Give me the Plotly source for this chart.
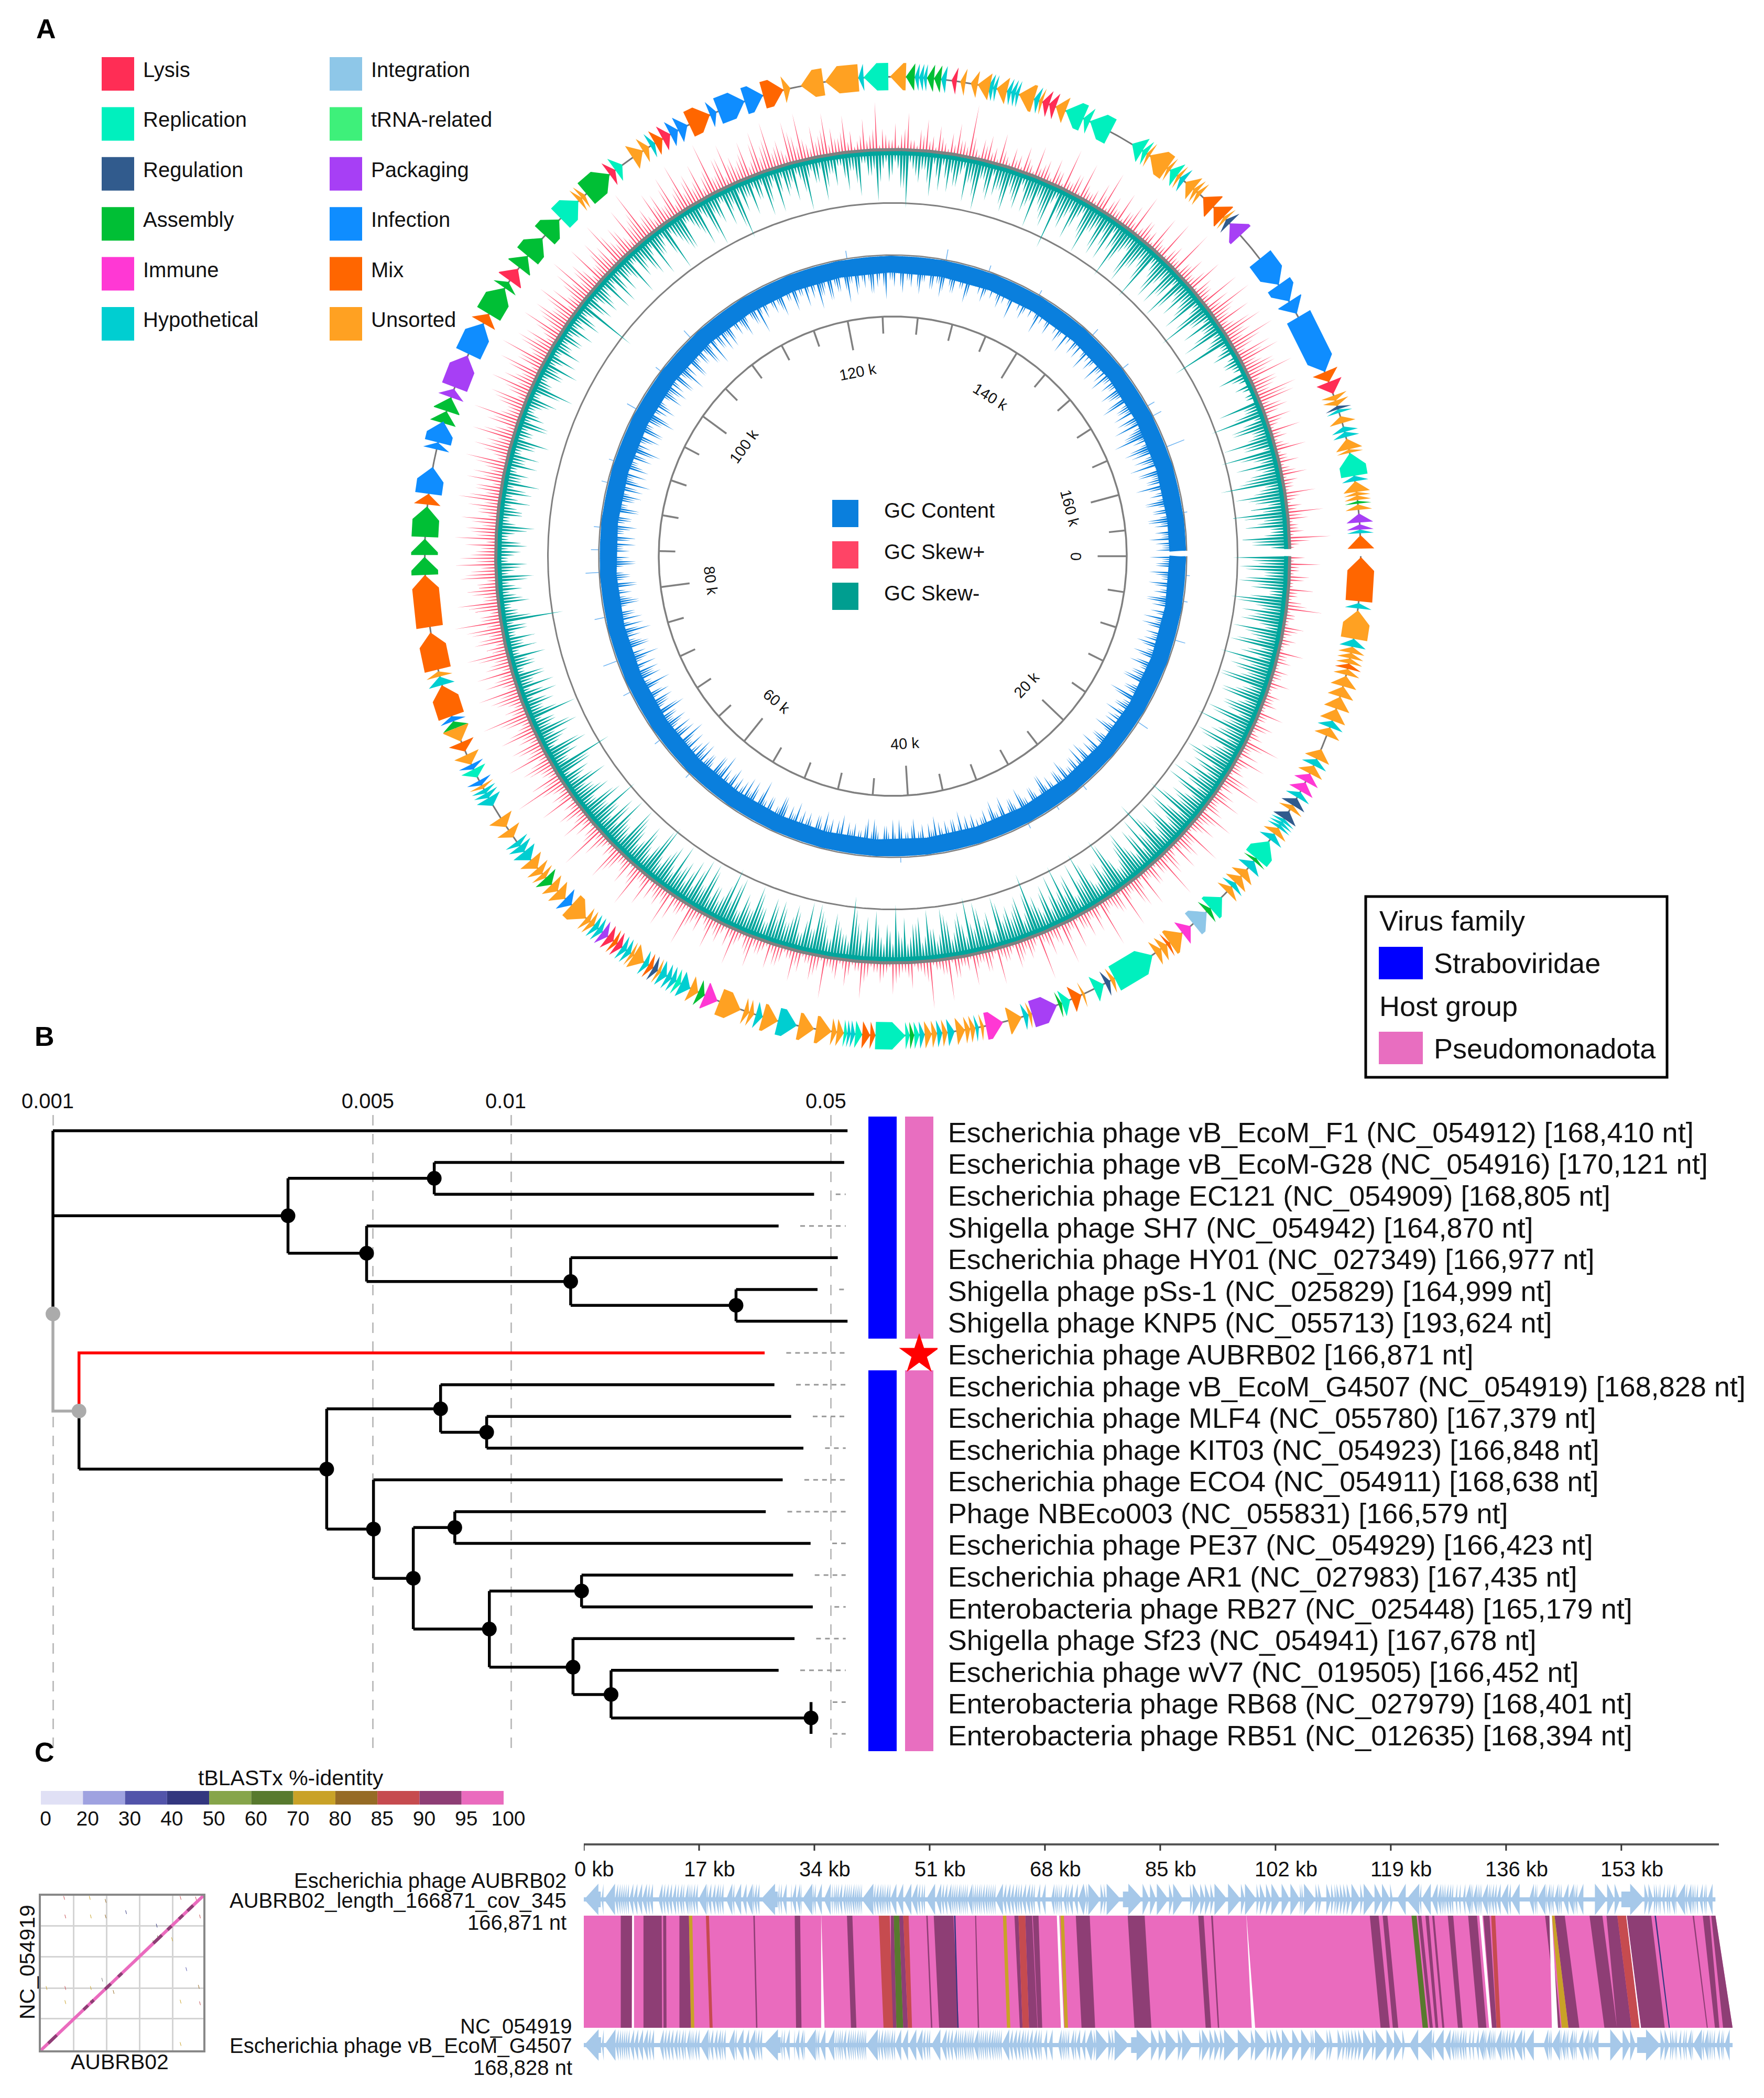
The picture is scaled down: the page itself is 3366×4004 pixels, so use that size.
import numpy as np
import plotly.graph_objects as go

W, H = 3366, 4004
FONT = "Liberation Sans"

# ---------- Panel A data (kb positions) ----------
GENOME_KB = 166.871
RING_END_KB = 166.4
lysis_genes = [(58.1,58.45),(58.7,59.1),(99.7,100.5),(107.9,108.3),(111.5,112),(128.5,128.8),(133.8,134.2),(134.2,134.6),(157,157.7)]
replication_genes = [(16.9,18.1),(21,21.9),(26.1,28.6),(29.3,29.9),(31.4,31.9),(40.2,40.5),(40.75,41),(41,42.7),(43.45,43.85),(44.3,44.5),(54.2,54.5),(70.7,71.2),(104.2,105.6),(108.3,108.8),(123.5,124.9),(135.2,136.3),(136.3,136.7),(136.7,138),(139.4,140.1),(140.1,140.4),(142,142.5),(161.1,162.4)]
regulation_genes = [(14.05,14.5),(14.9,15.4),(28.9,29.2),(55.7,56),(146.2,146.5),(158.4,158.6)]
assembly_genes = [(18.1,18.3),(21.9,22.2),(31.9,32.1),(40.5,40.75),(52.7,53.1),(63.4,63.9),(73.7,74.1),(82.4,83.4),(83.5,84.4),(84.5,86.2),(90.9,91.6),(91.6,92.4),(97.5,99.2),(99.2,99.6),(100.6,101.4),(101.4,102.7),(102.9,104.1),(106.2,107.9),(125.9,126.4),(127.1,127.5),(127.5,127.9),(163.8,163.95)]
immune_genes = [(12.5,13),(13.05,13.6),(23.4,24),(35.4,36.4),(51.9,52.7)]
hypothetical_genes = [(2.6,2.9),(4.6,5.05),(9.3,9.7),(11.6,12),(13.65,14),(15.4,15.6),(15.6,15.8),(15.8,16),(16.4,16.8),(18.3,18.8),(19.9,20.2),(33.9,34.2),(36.8,37),(38.2,38.6),(38.9,39.2),(39.9,40.2),(43.85,44.1),(44.1,44.3),(47.2,48.3),(49.2,49.6),(53.6,54.2),(54.5,54.8),(54.8,55.1),(55.1,55.5),(56.3,56.6),(57.5,57.8),(57.8,58.1),(59.5,59.8),(59.8,60.1),(65.2,65.8),(65.8,66.2),(66.2,66.5),(68.9,69.4),(69.4,69.7),(69.7,69.95),(76.2,76.7),(110.7,111),(123.2,123.5),(126.4,126.65),(126.65,126.9),(126.9,127.1),(127.9,128.2),(130.6,130.9),(130.9,131.1),(131.7,131.95),(131.95,132.2),(132.2,132.4),(133.3,133.6),(142.7,143),(158.6,158.8),(159.6,159.9),(159.9,160.2),(162.4,162.7),(165.4,165.6)]
integration_genes = [(22.2,23.2)]
packaging_genes = [(32.2,33.7),(59.1,59.5),(92.4,92.9),(93,94.9),(146.5,147.4),(164.5,165),(165.1,165.4)]
infection_genes = [(61.8,62.3),(70.2,70.5),(71.2,71.5),(74.1,74.4),(86.9,88.4),(89.4,89.8),(89.8,91),(95,96.9),(112,112.5),(112.5,113.1),(114.5,114.9),(115,116.6),(116.6,117.7),(149.1,150.9),(150.9,152),(152,152.8),(153,156.4)]
mix_genes = [(0.05,2.5),(6,6.3),(24.9,25.1),(30.7,31.3),(42.7,43),(43,43.45),(56,56.3),(58.45,58.7),(72.3,72.85),(74.4,76.2),(77.1,79.2),(79.5,82.4),(86.3,86.9),(96.9,97.5),(111,111.5),(113.2,114.5),(117.7,118.9),(144.4,145.2),(145.2,146),(156.4,157),(165.7,166.45)]
unsorted_genes = [(3,4.6),(5.05,5.4),(5.4,5.7),(5.7,6),(6.3,6.65),(6.7,7.3),(7.3,7.9),(7.9,8.6),(8.6,9.3),(9.7,10.2),(11,11.6),(12,12.5),(14.5,14.8),(16,16.4),(18.9,19.4),(19.4,19.9),(20.2,20.6),(24,24.9),(25.1,25.5),(25.5,25.9),(28.6,28.85),(30.5,30.65),(33.7,33.9),(34.3,35.1),(36.5,36.7),(37,37.3),(37.3,37.6),(37.6,38.1),(38.6,38.9),(39.2,39.5),(39.5,39.9),(44.5,44.9),(44.9,45.2),(45.2,46.1),(46.2,47.1),(48.3,49.2),(49.7,50),(50,50.3),(50.5,51.8),(53.1,53.6),(55.5,55.7),(56.6,57.3),(57.3,57.5),(60.1,60.4),(60.4,60.7),(60.7,61.8),(62.3,62.9),(62.9,63.4),(63.9,64.2),(64.2,64.6),(64.6,65.2),(66.8,67.3),(67.5,68.1),(70,70.2),(71.5,72.1),(72.9,73.7),(76.7,77),(105.6,105.85),(105.85,106.1),(109.5,110.2),(110.2,110.6),(118.9,119.3),(119.9,121.2),(121.3,123.2),(125,125.9),(129,129.3),(129.6,130),(130,130.7),(131.1,131.7),(132.4,133.3),(133.6,133.8),(134.6,135.2),(140.4,140.6),(140.6,141.8),(141.8,142),(142.5,142.7),(143.1,143.7),(143.7,143.95),(143.95,144.2),(146,146.2),(157.8,158.1),(158.1,158.4),(159,159.4),(160.3,160.9),(160.9,161.1),(162.7,163.3),(163.3,163.5),(163.5,163.75),(164,164.3)]
forward_regions = [(73.7,119.4),(149,158.4)]

gc_skew_minus = [
 9,5,7,4,8,6,3,9,5,7,6,4,8,5,7,3,6,9,4,6,5,8,4,7,3,6,5,8,4,9,5,3,7,4,6,8,3,5,7,4,
 5,8,3,6,4,9,5,7,3,8,4,6,10,5,3,7,4,8,6,3,5,9,4,6,3,7,5,8,3,6,9,4,5,7,3,6,10,4,7,5,
 6,4,8,3,5,7,4,9,5,6,3,7,4,5,8,3,6,4,7,5,3,6,4,8,5,3,6,10,4,5,7,3,6,8,4,5,3,7,4,6,
 4,7,3,5,8,4,6,3,7,9,4,5,3,8,4,6,7,3,5,8,4,6,3,9,5,4,7,3,6,8,4,5,3,7,5,9,4,6,3,5,
 4,7,3,5,6,10,3,4,6,3,5,7,3,4,8,3,5,2,4,6,3,5,2,4,6,2,3,5,2,4,10,3,2,5,3,4,2,6,3,5,
 2,4,5,2,3,6,2,4,3,5,2,4,6,3,2,5,3,2,4,6,3,2,5,4,2,3,5,2,7,3,2,4,6,3,2,5,3,4,2,5,
 3,5,2,10,4,2,5,3,6,2,4,5,3,7,2,4,5,3,7,4,2,8,3,5,6,2,4,7,3,8,4,2,6,3,9,5,3,2,4,7,
 3,7,2,4,6,3,8,2,4,7,3,5,2,6,3,7,2,4,8,3,5,2,6,9,3,5,3,7,4,2,6,5,3,7,4,8,3,6,5,4,
 7,4,6,3,5,8,4,6,3,10,5,4,7,3,5,8,4,6,3,7,5,9,4,3,8,5,4,9,3,6,4,7,5,8,3,6,4,7,3,9,
 4,6,3,7,3,10,2,4,2,3,2,5,2,3,1,2,7,3,9,4,6,3,8,5,9,4,7,3,6,10,4,8,5,6,9,4,7,3,8,6]
gc_skew_minus_between = [
 6,8,4,7,5,3,6,8,4,5,7,3,6,4,8,5,3,6,7,4,8,3,5,7,4,6,3,7,5,4,6,8,3,5,4,7,6,3,5,8,
 3,6,4,5,7,3,8,4,6,5,3,7,4,8,6,3,5,7,4,3,8,5,6,3,4,9,5,3,7,4,5,8,3,6,4,5,7,3,6,4,
 5,7,3,6,4,8,5,3,7,4,6,8,3,5,4,7,6,3,4,9,5,3,6,4,7,5,8,3,4,6,3,5,7,4,8,3,6,5,4,7,
 6,3,5,7,4,5,3,8,4,6,3,5,7,4,8,3,5,6,4,3,7,5,4,8,3,6,4,5,7,3,4,8,6,3,5,4,7,3,6,4,
 3,5,4,2,6,3,5,7,2,4,3,6,4,2,5,3,4,6,2,3,5,2,4,3,2,5,3,2,4,2,5,3,2,4,2,3,5,2,4,2,
 3,2,4,2,5,3,2,4,2,3,5,2,3,4,2,3,5,2,4,2,3,5,2,3,2,4,2,5,3,2,4,3,2,5,2,3,2,4,3,2,
 2,4,3,2,5,3,4,2,3,6,2,3,4,2,5,3,6,2,4,3,5,2,4,6,2,3,5,2,6,3,5,2,4,7,2,3,6,4,2,5,
 2,4,5,3,2,5,3,4,2,5,3,2,4,3,5,2,4,3,5,2,4,3,6,2,4,3,5,2,6,4,3,5,2,4,6,3,5,2,4,6,
 3,5,2,6,4,3,5,7,2,4,6,3,5,2,6,4,3,7,5,2,4,6,3,7,5,3,6,2,4,7,3,5,2,6,4,3,5,2,6,4,
 2,3,5,2,4,2,3,1,3,2,1,3,1,2,2,1,3,5,2,6,3,4,5,2,6,3,4,5,7,3,5,6,3,4,7,5,3,4,6,3]
gc_skew_plus = [
 3,6,2,4,1,5,2,3,7,2,1,4,2,3,1,5,2,1,3,2,4,1,3,2,1,5,2,4,1,3,7,2,4,6,2,3,5,8,3,4,
 6,2,4,7,3,5,2,8,3,4,6,2,5,9,3,4,2,7,3,5,2,8,4,3,2,9,3,2,5,3,6,2,8,4,2,3,9,2,4,3,
 5,2,3,7,2,4,2,6,3,2,4,8,3,2,9,3,2,5,2,3,6,2,4,2,3,7,2,3,2,4,2,8,3,5,2,4,6,2,3,4,
 5,2,3,6,3,2,7,4,2,3,6,2,4,3,8,2,3,5,7,2,3,4,6,2,8,3,5,2,4,7,3,2,5,9,3,4,6,2,5,3,
 7,4,3,10,6,3,5,4,8,3,6,4,7,3,5,9,4,3,6,8,3,4,7,5,3,8,4,6,3,7,9,4,5,8,3,6,4,7,5,8,
 7,4,6,8,5,3,7,4,6,8,3,5,7,6,4,8,3,7,5,8,4,6,9,3,5,7,4,8,6,3,8,5,9,4,7,6,3,8,5,7,
 4,8,6,3,7,9,5,4,8,3,7,5,9,4,6,3,8,5,10,4,3,7,6,3,8,4,9,5,3,7,4,10,3,6,8,5,4,7,3,8,
 5,9,4,3,8,5,9,3,6,4,8,5,3,7,4,2,6,3,9,4,2,5,3,7,2,4,6,3,5,2,4,6,3,10,2,4,5,3,6,2,
 4,3,5,2,6,3,2,5,3,8,2,4,7,2,3,5,8,3,2,6,3,5,8,2,4,3,7,2,8,3,2,9,3,5,2,7,4,3,8,5,
 9,4,7,3,8,5,9,4,7,8,4,6,9,5,4,8,7,4,3,5,2,6,3,2,6,2,4,2,5,3,2,6,2,3,7,4,2,3,8,2]
gc_skew_plus_between = [
 1,2,1,3,1,2,1,4,1,2,1,3,1,2,1,2,3,1,2,1,2,1,2,3,1,2,1,3,2,1,4,2,1,3,2,1,4,2,1,3,
 2,3,1,4,2,3,1,3,5,2,1,4,2,3,1,4,2,1,6,2,3,1,4,2,3,1,5,2,3,1,2,4,1,3,5,2,1,3,2,4,
 1,3,2,1,4,2,3,1,2,4,1,3,2,1,4,2,1,3,2,4,1,3,2,1,4,2,1,5,1,3,2,1,4,2,1,3,2,1,4,2,
 1,3,2,4,1,3,2,1,4,2,3,1,2,4,1,3,2,1,3,4,2,1,3,2,4,1,3,2,5,2,1,3,2,4,1,2,3,4,2,1,
 3,2,5,4,2,3,6,2,4,5,2,3,5,2,6,3,2,5,4,2,6,3,2,4,6,3,2,5,6,3,4,2,6,3,5,4,2,6,3,4,
 5,3,2,4,6,5,2,4,3,6,5,2,4,3,6,2,5,4,3,6,2,5,4,3,6,2,5,3,4,6,2,5,3,6,4,2,5,3,6,4,
 6,2,3,5,4,3,6,2,3,5,4,2,6,3,5,2,4,6,3,5,2,4,3,6,2,5,3,6,4,2,5,3,6,2,4,3,5,2,6,3,
 6,3,5,2,6,3,4,2,3,5,2,3,4,2,1,3,2,4,1,3,2,1,4,2,1,3,2,1,3,1,2,3,2,4,1,3,2,1,3,1,
 2,1,3,1,2,4,1,3,1,2,4,1,3,2,1,3,1,4,2,1,3,2,1,4,2,1,3,2,1,4,2,1,3,2,4,1,3,2,1,3,
 5,3,2,6,4,3,6,2,5,3,6,4,2,5,3,6,2,5,1,3,1,2,1,3,1,2,1,3,1,2,1,3,1,2,3,1,2,1,4,1]
gc_content = [
 6,4,5,3,5,4,6,3,5,4,6,5,3,4,6,4,5,3,4,5,6,3,4,5,3,6,4,5,4,6,3,5,4,7,3,4,5,4,3,5,
 5,4,6,3,4,5,3,6,4,3,5,4,6,3,5,4,3,6,4,5,3,5,4,6,3,4,5,3,4,6,3,5,4,3,5,4,6,3,5,4,
 4,5,3,4,6,3,5,4,3,5,6,4,3,5,4,6,3,4,5,3,6,4,5,3,5,4,6,3,4,5,4,3,6,5,3,4,6,4,5,3,
 5,3,4,6,4,3,5,6,4,3,5,4,7,3,5,4,6,5,3,4,6,3,5,7,4,6,3,5,4,6,5,3,4,6,4,7,3,5,6,4,
 6,4,5,7,3,5,6,4,5,3,7,4,6,5,3,6,4,7,5,3,6,4,5,7,3,4,6,5,3,4,6,4,5,3,6,4,5,3,4,6,
 5,3,4,6,5,3,4,6,4,5,3,6,4,5,6,3,5,7,4,6,3,5,4,6,3,7,5,4,6,3,6,4,5,7,3,5,6,4,3,6,
 4,6,5,3,6,4,7,5,3,6,4,5,3,6,4,7,3,5,6,4,5,3,5,4,6,3,4,5,7,3,4,3,5,4,6,3,4,6,3,4,
 6,3,4,7,5,3,6,4,5,3,7,4,6,3,5,4,6,5,3,7,4,5,3,6,4,5,3,6,4,3,5,4,6,3,4,5,3,4,6,3,
 3,4,5,3,4,3,5,4,3,6,3,4,5,3,4,3,6,4,3,5,3,4,5,3,6,4,3,4,5,3,6,4,5,3,6,4,5,6,4,5,
 4,6,5,3,7,4,5,6,3,5,7,4,6,8,5,4,7,6,4,5,7,3,6,4,5,7,3,5,4,6,3,5,4,6,5,3,4,6,5,4]
gc_content_between = [
 4,5,3,6,4,3,5,4,3,6,4,3,5,3,4,6,3,5,4,3,5,4,6,3,5,4,3,5,6,3,4,5,3,6,4,5,3,6,4,3,
 3,5,4,3,5,4,3,4,5,3,6,3,4,5,3,4,5,3,5,3,4,3,6,4,3,5,3,4,5,3,4,5,3,6,3,4,5,3,4,3,
 3,4,5,3,4,5,3,5,4,3,4,5,3,4,3,5,4,3,6,4,3,5,3,4,6,3,5,4,3,4,5,3,4,3,5,4,3,5,3,4,
 4,5,3,4,5,3,6,4,3,5,3,4,5,3,6,4,3,4,5,3,5,4,3,5,6,3,4,5,3,4,6,5,3,4,5,3,6,4,3,5,
 4,5,3,6,4,5,3,6,3,5,4,3,5,6,4,3,5,4,3,6,5,3,4,5,6,3,4,5,3,6,5,3,4,6,3,5,4,3,6,4,
 3,5,4,3,6,4,5,3,5,3,6,4,3,5,4,6,3,5,4,3,6,4,3,5,6,4,3,5,3,6,4,3,5,6,4,3,5,3,4,5,
 5,3,4,6,3,5,4,3,6,4,3,5,4,6,3,4,5,3,4,6,3,4,3,5,4,3,5,3,4,5,3,4,3,5,3,4,3,5,4,3,
 4,5,3,5,4,6,3,5,3,5,4,3,5,4,3,6,3,4,5,3,4,3,5,3,4,3,5,4,3,5,3,4,5,3,5,3,4,3,5,3,
 2,3,4,2,3,4,3,2,4,3,2,3,4,2,3,4,3,2,4,3,2,3,4,3,2,3,5,3,2,4,3,2,4,3,4,3,2,4,3,4,
 3,5,4,6,3,5,4,3,6,4,3,5,6,4,3,6,5,3,6,4,3,6,4,5,3,5,4,3,6,4,5,3,6,4,3,5,4,3,4,5]
gc_outward_kb = [1.7,4,7.5,15.5,23,26,29,41,62,66,71,74,78,82,84,86,90,92,97,101,105,121,130,134,139,145,149,153,154,157,163]
gc_outward_len = [7,8,20,22,10,8,10,10,10,12,15,28,20,26,15,12,12,10,20,12,18,15,20,12,10,15,14,15,18,36,7]
scale_ticks_kb = list(range(0, 165, 4))
scale_label_kb = [0, 20, 40, 60, 80, 100, 120, 140, 160]
category_legend = [("Lysis","#FF2D55"),("Replication","#00F0BE"),("Regulation","#315B8D"),("Assembly","#00BF35"),("Immune","#FF38D4"),("Hypothetical","#00CED1"),
                   ("Integration","#8EC7E8"),("tRNA-related","#3EF07A"),("Packaging","#A73FF5"),("Infection","#0F8DFF"),("Mix","#FF6600"),("Unsorted","#FFA122")]

# ---------- Panel B data ----------
phage_labels = ["Escherichia phage vB_EcoM_F1 (NC_054912) [168,410 nt]","Escherichia phage vB_EcoM-G28 (NC_054916) [170,121 nt]","Escherichia phage EC121 (NC_054909) [168,805 nt]","Shigella phage SH7 (NC_054942) [164,870 nt]","Escherichia phage HY01 (NC_027349) [166,977 nt]","Shigella phage pSs-1 (NC_025829) [164,999 nt]","Shigella phage KNP5 (NC_055713) [193,624 nt]","Escherichia phage AUBRB02 [166,871 nt]","Escherichia phage vB_EcoM_G4507 (NC_054919) [168,828 nt]","Escherichia phage MLF4 (NC_055780) [167,379 nt]","Escherichia phage KIT03 (NC_054923) [166,848 nt]","Escherichia phage ECO4 (NC_054911) [168,638 nt]","Phage NBEco003 (NC_055831) [166,579 nt]","Escherichia phage PE37 (NC_054929) [166,423 nt]","Escherichia phage AR1 (NC_027983) [167,435 nt]","Enterobacteria phage RB27 (NC_025448) [165,179 nt]","Shigella phage Sf23 (NC_054941) [167,678 nt]","Escherichia phage wV7 (NC_019505) [166,452 nt]","Enterobacteria phage RB68 (NC_027979) [168,401 nt]","Enterobacteria phage RB51 (NC_012635) [168,394 nt]"]
tree_hbranch = [(.001,.0543,1),(.0068,.0534,2),(.0068,.0459,3),(.00484,.0384,4),(.0135,.0517,5),(.031,.0467,6),(.031,.0543,7),(.00702,.0376,9),(.00885,.0409,10),(.00885,.0435,11),(.00501,.0392,12),(.00754,.036,13),(.00754,.0451,14),(.01426,.0413,15),(.01426,.0456,16),(.01366,.0416,17),(.01654,.0384,18),
 (.001,.00326,3.68),(.00326,.0068,2.5),(.00326,.00484,4.86),(.00484,.0135,5.75),(.0135,.031,6.5),(.00114,.00396,11.66),(.00396,.00702,9.76),(.00702,.00885,10.5),(.00396,.00501,13.55),(.00501,.00612,15.1),(.00612,.00754,13.5),(.00612,.00897,16.7),(.00897,.01426,15.5),(.00897,.01366,17.9),(.01366,.01654,18.76),(.01654,.0452,19.5)]
tree_vbranch = [(.001,1,6.77),(.00326,2.5,4.86),(.0068,2,3),(.00484,4,5.75),(.0135,5,6.5),(.031,6,7),(.00114,9.83,11.66),(.00396,9.76,13.55),(.00702,9,10.5),(.00885,10,11),(.00501,12,15.1),(.00612,13.5,16.7),(.00754,13,14),(.00897,15.5,17.9),(.01426,15,16),(.01366,17,18.76),(.01654,18,19.5),(.0452,19,20)]
tree_nodes_x = [.00326,.0068,.00484,.0135,.031,.00396,.00702,.00885,.00501,.00612,.00754,.00897,.01426,.01366,.01654,.0452]
tree_nodes_y = [3.68,2.5,4.86,5.75,6.5,11.66,9.76,10.5,13.55,15.1,13.5,16.7,15.5,17.9,18.76,19.5]
root_nodes_x = [.001,.00114]
root_nodes_y = [6.77,9.83]
query_branch_x = [.00114,.00114,.0358]
query_branch_y = [9.83,8,8]
root_branch_x = [.001,.001,.00114]
root_branch_y = [6.77,9.83,9.83]
leader_rows = [3,4,6,8,9,10,11,12,13,14,15,16,17,18,19,20]
leader_tips = [.0459,.0384,.0467,.0358,.0376,.0409,.0435,.0392,.036,.0451,.0413,.0456,.0416,.0384,.0452,.0452]
scale_vals = [.001,.005,.01,.05]
scale_text = ["0.001","0.005","0.01","0.05"]

# ---------- Panel C data ----------
identity_labels = ["0","20","30","40","50","60","70","80","85","90","95","100"]
identity_colors = ["#E0E0F5","#9FA2E0","#5254AA","#33377F","#86A54A","#587A2E","#C9A227","#966B25","#C64B4F","#8E3E75","#EA6BBE"]
PURPLE, RED, YELLOW, GREEN, NAVY, PINK = "#8E3E75", "#C64B4F", "#C9A227", "#587A2E", "#33377F", "#EA6BBE"
purple_hits = [(5.45,7.12,5.45,7.04),(8.8,11.48,8.8,11.55),(11.7,12.15,11.75,12.2),(14.1,15.5,14.1,15.8),(25,25.2,25.4,25.6),(31.1,31.9,31.3,32.1),(38.8,39.6,39.4,40.2),(45.29,45.7,45.29,46.1),(46.5,47.1,47.1,47.8),(50.5,50.7,51.2,51.4),(51.6,54.5,52.4,55.3),(57.7,57.85,58.1,58.3),(63.5,64.1,64.3,64.7),(65.1,66.1,65.65,66.9),(66.2,67.05,66.95,67.6),(72.55,74.6,73.4,75.4),(80.2,82.7,81.2,83.7),(90.6,91.4,91.7,92.5),(92.5,92.75,93.5,93.7),(115.9,117.2,117.5,118.85),(117.8,118.5,119.3,120.1),(123,123.5,124.75,125.2),(124.1,124.6,125.6,126),(125.1,125.4,126.6,126.9),(127.4,128.2,128.9,129.6),(130.4,131.7,131.9,133.1),(132.65,133.55,133.95,134.6),(141.75,142.4,143.65,144.05),(143.15,144.65,145.2,146.8),(148.3,150.2,150.5,152.35),(150.8,152.4,152.35,154.5),(153.8,157.4,155.9,159.4),(163.5,163.7,165.6,165.75),(165,166,166.8,167.45),(166.25,166.87,168,169.4)]
red_hits = [(18,18.45,18.55,19),(43.5,45.1,44.2,45.6),(47.1,47.9,47.8,48.4),(64.1,65.1,64.7,65.65),(133.8,134.4,134.6,135.2),(152.4,153.7,154.5,155.7)]
yellow_hits = [(15.5,16,15.8,16.3),(61.8,62.3,62.4,62.9),(70.3,70.8,70.9,71.4),(142.75,143.15,144.2,145.2)]
green_hits = [(45.7,46.5,46.1,47.1),(122.05,122.8,123.7,124.5)]
navy_hits = [(54.6,54.8,55.1,55.25),(157.9,158.1,160,160.15)]
gap_hits = [(7.12,7.4,7.1,7.4),(35,35.02,35,35.5),(69.75,70.1,70.35,70.8),(97.7,97.72,98.5,99),(132.05,132.5,133.5,133.9),(142.4,142.75,142.75,143.65),(153.7,153.8,155.7,155.9)]
ruler_kb = [0,17,34,51,68,85,102,119,136,153]
ruler_end_kb = 167.39
subject_stretch = 169.4/166.871
dot_grid_x = [33.8,67.7,101.5,135.3]
dot_grid_y = [34.4,68,102,136]
dot_dark_segments = [(7.6,16.3),(43.8,48.4),(51.3,54.3),(65.9,71.8),(79.4,83.4),(115.5,124.3),(130.1,134.2),(141.8,146),(150.5,156.4)]
off_x = [23.9,50.2,66.5,143.5,159.3,87.5,25.1,51.3,66.5,163.4,119,120.2,115.5,134.8,149.4,63,5.8,25.1,51.3,162.2,74.7,25.1,51.3,143.5,163.4,143.5]
off_y = [166.5,166.5,163.2,166.5,165.8,150.9,146.2,146.2,146.2,146.2,136.2,123.4,118.2,121.3,88.7,77.1,68.1,68.1,68.1,69.4,63.7,52.7,52.7,53.2,51.4,6.9]
off_colors = ["#C64B4F","#C9A227","#966B25","#C64B4F","#C64B4F","#33377F","#C64B4F","#C9A227","#966B25","#C64B4F","#33377F","#587A2E","#86A54A","#C9A227","#5254AA","#777777","#C9A227","#C64B4F","#C9A227","#966B25","#966B25","#C9A227","#C9A227","#C9A227","#C64B4F","#C9A227"]


def dx(a, b):
    return [a / W, b / W]


def dy(top, bottom):
    return [1 - bottom / H, 1 - top / H]


CY = 1061.5
CX = 1703.5
Y_STRETCH = 1.0246


def ring(kb, r):
    t = 2 * np.pi * np.asarray(kb, dtype=float) / GENOME_KB
    r = np.asarray(r, dtype=float)
    return r * np.cos(t), -r * np.sin(t)


def polys_to_xy(polys):
    xs, ys = [], []
    for px_, py_ in polys:
        xs += list(px_) + [px_[0], None]
        ys += list(py_) + [py_[0], None]
    return xs, ys


def is_forward(kb):
    return any(a <= kb <= b for a, b in forward_regions)


fig = go.Figure()
layout_extra = {}

# ---------- Panel A ----------
A_X0, A_X1, A_Y0, A_Y1 = 700, 2700, 80, 2040
layout_extra["xaxis"] = dict(domain=dx(A_X0, A_X1), range=[A_X0 - CX, A_X1 - CX], visible=False, anchor="y")
layout_extra["yaxis"] = dict(domain=dy(A_Y0, A_Y1), range=[(CY - A_Y1) / Y_STRETCH, (CY - A_Y0) / Y_STRETCH], visible=False, anchor="x")


def circle_trace(r, color, width, end=None):
    kb = np.linspace(0, GENOME_KB if end is None else end, 721)
    x, y = ring(kb, r)
    return go.Scatter(x=x, y=y, mode="lines", line=dict(color=color, width=width), hoverinfo="skip", showlegend=False)


def spikes(primary, between, r0, sign, half_kb, color, unit=10.0):
    values = [v for pair in zip(primary, between) for v in pair]
    pos = (np.arange(len(values)) + 0.5) / len(values) * RING_END_KB
    polys = []
    for p, v in zip(pos, values):
        a = ring([max(p - half_kb, 0), min(p + half_kb, RING_END_KB), p], [r0, r0, r0 + sign * v * unit])
        polys.append((a[0], a[1]))
    xs, ys = polys_to_xy(polys)
    return go.Scatter(x=xs, y=ys, mode="lines", fill="toself", fillcolor=color, line=dict(width=0, color=color), hoverinfo="skip", showlegend=False)


fig.add_trace(circle_trace(446.5, "#808080", 3.5))
for k in scale_ticks_kb:
    rin = 391 if k % 20 == 0 else 415
    x, y = ring([k, k], [446.5, rin])
    fig.add_trace(go.Scatter(x=x, y=y, mode="lines", line=dict(color="#808080", width=3.5), hoverinfo="skip", showlegend=False))
fig.add_trace(circle_trace(658, "#808080", 3))

# GC content
fig.add_trace(spikes(gc_content, gc_content_between, 559, -1, 0.15, "#0A7FDD", unit=11.5))
fig.add_trace(circle_trace(544, "#0A7FDD", 32, RING_END_KB))
xo, yo = [], []
for k, l in zip(gc_outward_kb, gc_outward_len):
    a, b = ring([k, k], [561, 561 + l])
    xo += list(a) + [None]
    yo += list(b) + [None]
fig.add_trace(go.Scatter(x=xo, y=yo, mode="lines", line=dict(color="#6CB3F2", width=1.5), hoverinfo="skip", showlegend=False))
fig.add_trace(circle_trace(561, "#808080", 2.5, RING_END_KB))

# GC skew
fig.add_trace(spikes(gc_skew_plus, gc_skew_plus_between, 757, 1, 0.05, "#FF4F70"))
fig.add_trace(spikes(gc_skew_minus, gc_skew_minus_between, 757, -1, 0.1, "#00A59C", unit=12.0))
fig.add_trace(circle_trace(751, "#00A59C", 8, RING_END_KB))
fig.add_trace(circle_trace(757.5, "#808080", 6, RING_END_KB))

# Genes
fig.add_trace(circle_trace(893, "#777777", 3, RING_END_KB))
R_IN, R_OUT, R_MID = 868, 919, 893.5
HEAD = 0.75


def gene_poly(s, e):
    head = min(HEAD, e - s)
    if is_forward((s + e) / 2):
        kb = [s, s, e - head, e, e - head]
    else:
        kb = [e, e, s + head, s, s + head]
    rr = [R_IN, R_OUT, R_OUT, R_MID, R_IN]
    x, y = ring(kb, rr)
    return x, y


gene_sets = [lysis_genes, replication_genes, regulation_genes, assembly_genes, immune_genes, hypothetical_genes,
             integration_genes, [], packaging_genes, infection_genes, mix_genes, unsorted_genes]
for genes, (name, col) in zip(gene_sets, category_legend):
    if not genes:
        continue
    xs, ys = polys_to_xy([gene_poly(s, e) for s, e in genes])
    fig.add_trace(go.Scatter(x=xs, y=ys, mode="lines", fill="toself", fillcolor=col, line=dict(width=0, color=col), name=name, hoverinfo="skip", showlegend=False))

annotations, shapes = [], []


def label(text, x, y, size, anchor="left", bold=False, rot=0, color="#111111"):
    annotations.append(dict(text=f"<b>{text}</b>" if bold else text, x=x / W, y=1 - y / H, xref="paper", yref="paper", xanchor=anchor, yanchor="middle",
                            showarrow=False, font=dict(family=FONT, size=size, color=color), textangle=rot, borderpad=0))


def rect(x0, y0, x1, y1, color, line=None, lw=0):
    shapes.append(dict(type="rect", xref="paper", yref="paper", x0=x0 / W, x1=x1 / W, y0=1 - y0 / H, y1=1 - y1 / H, fillcolor=color,
                       line=dict(color=line or color, width=lw), layer="above"))


for i, (name, col) in enumerate(category_legend):
    col_x = 194 if i < 6 else 629
    row = i % 6
    top = 109 + row * 95.4
    rect(col_x, top, col_x + 62, top + 64, col)
    label(name, col_x + 78, top + 24, 40)

for k in scale_label_kb:
    x, y = ring([k], [350])
    theta = 360 * k / GENOME_KB
    rot = (theta + 90) % 360
    if 90 < rot < 270:
        rot -= 180
    if rot >= 270:
        rot -= 360
    if k == 0:
        rot = 90
    annotations.append(dict(text="0" if k == 0 else f"{k} k", x=float(x[0]), y=float(y[0]), xref="x", yref="y", showarrow=False, textangle=rot,
                            font=dict(family=FONT, size=29, color="#111111")))

for name, col, top in [("GC Content", "#0A7FDD", 954), ("GC Skew+", "#FF4466", 1033), ("GC Skew-", "#009E90", 1112)]:
    rect(1588, top, 1638, top + 52, col)
    label(name, 1686, top + 20, 40)

rect(2606, 1711, 3181, 2056, "rgba(0,0,0,0)", "black", 5)
label("Virus family", 2631, 1757, 54)
rect(2631, 1807, 2715, 1869, "#0000FF")
label("Straboviridae", 2735, 1838, 54)
label("Host group", 2631, 1920, 54)
rect(2631, 1969, 2715, 2031, "#E86EC0")
label("Pseudomonadota", 2735, 2001, 54)

label("A", 68, 55, 52, bold=True, color="black")
label("B", 65, 1978, 52, bold=True, color="black")
label("C", 65, 3344, 52, bold=True, color="black")

# ---------- Panel B ----------
TREE_DOM = dy(2127.7, 3339.3)
layout_extra["xaxis2"] = dict(domain=dx(0, 1640), type="log", range=[-3 - 101 / 874, -3 + 1539 / 874], side="top", anchor="y2",
                              tickvals=scale_vals, ticktext=scale_text, ticklabelshift=-10, ticklabelstandoff=4, ticks="", showline=False, zeroline=False,
                              showgrid=True, griddash="20px,16px", gridcolor="#BDBDBD", gridwidth=3,
                              tickfont=dict(family=FONT, size=40, color="#111111"))
layout_extra["yaxis2"] = dict(domain=TREE_DOM, range=[20.5, 0.5], visible=False, anchor="x2")
lx, ly = [], []
for r, t in zip(leader_rows, leader_tips):
    lx += [t * 1.115, 0.0538, None]
    ly += [r, r, None]
fig.add_trace(go.Scatter(x=lx, y=ly, xaxis="x2", yaxis="y2", mode="lines", line=dict(color="#999999", width=3, dash="9px,8px"), hoverinfo="skip", showlegend=False))
bx, by = [], []
for a, b, y_ in tree_hbranch:
    bx += [a, b, None]
    by += [y_, y_, None]
for x_, a, b in tree_vbranch:
    bx += [x_, x_, None]
    by += [a, b, None]
fig.add_trace(go.Scatter(x=bx, y=by, xaxis="x2", yaxis="y2", mode="lines", line=dict(color="black", width=5.5), hoverinfo="skip", showlegend=False))
fig.add_trace(go.Scatter(x=root_branch_x, y=root_branch_y, xaxis="x2", yaxis="y2", mode="lines", line=dict(color="#ABABAB", width=5.5), hoverinfo="skip", showlegend=False))
fig.add_trace(go.Scatter(x=query_branch_x, y=query_branch_y, xaxis="x2", yaxis="y2", mode="lines", line=dict(color="#FF0000", width=5.5), hoverinfo="skip", showlegend=False))
fig.add_trace(go.Scatter(x=tree_nodes_x, y=tree_nodes_y, xaxis="x2", yaxis="y2", mode="markers", marker=dict(color="black", size=28), hoverinfo="skip", showlegend=False))
fig.add_trace(go.Scatter(x=root_nodes_x, y=root_nodes_y, xaxis="x2", yaxis="y2", mode="markers", marker=dict(color="#ABABAB", size=28), hoverinfo="skip", showlegend=False))

columns = ["Virus family", "Host group"]
layout_extra["xaxis3"] = dict(domain=dx(1649, 1789), type="category", categoryorder="array", categoryarray=columns, range=[-0.5, 1.5], visible=False, anchor="y3")
layout_extra["yaxis3"] = dict(domain=dy(2130.7, 3342.3), range=[20.5, 0.5], side="right", anchor="x3", tickvals=list(range(1, 21)), ticktext=phage_labels,
                              ticks="outside", ticklen=8, tickcolor="rgba(0,0,0,0)", showgrid=False, showline=False, zeroline=False,
                              tickfont=dict(family=FONT, size=54, color="#111111"))
fig.add_trace(go.Bar(x=[columns[0]] * 2, base=[0.5, 8.5], y=[7, 12], width=0.771, marker=dict(color="#0000FF", line=dict(width=0)), xaxis="x3", yaxis="y3", hoverinfo="skip", showlegend=False))
fig.add_trace(go.Bar(x=[columns[1]] * 2, base=[0.5, 8.5], y=[7, 12], width=0.771, marker=dict(color="#E86EC0", line=dict(width=0)), xaxis="x3", yaxis="y3", hoverinfo="skip", showlegend=False))
fig.add_trace(go.Scatter(x=[columns[1]], y=[8], xaxis="x3", yaxis="y3", mode="markers", marker=dict(symbol="star", color="#FF0000", size=58), hoverinfo="skip", showlegend=False))

# ---------- Panel C : identity scale ----------
layout_extra["xaxis4"] = dict(domain=dx(78, 961), range=[0, 11], anchor="y4", tickvals=list(range(12)), ticktext=identity_labels, ticklabelshift=9, ticks="", showgrid=False, showline=False, zeroline=False,
                              tickfont=dict(family=FONT, size=39, color="#111111"))
layout_extra["yaxis4"] = dict(domain=dy(3418, 3444), range=[0, 1], visible=False, anchor="x4")
fig.add_trace(go.Bar(x=[i + 0.5 for i in range(11)], y=[1] * 11, width=1, marker=dict(color=identity_colors, line=dict(width=0)), xaxis="x4", yaxis="y4", hoverinfo="skip", showlegend=False))
label("tBLASTx %-identity", 555, 3393, 41, anchor="center")

# ---------- Panel C : dot plot ----------
layout_extra["xaxis5"] = dict(domain=dx(78, 388), range=[0, 166.871], anchor="y5", tickvals=dot_grid_x, showticklabels=False, ticks="", showgrid=True, gridcolor="#D4D4D4", gridwidth=2.5,
                              showline=True, linecolor="#888888", linewidth=4, mirror=True, zeroline=False)
layout_extra["yaxis5"] = dict(domain=dy(3618, 3913), range=[0, 168.828], anchor="x5", tickvals=dot_grid_y, showticklabels=False, ticks="", showgrid=True, gridcolor="#D4D4D4", gridwidth=2.5,
                              showline=True, linecolor="#888888", linewidth=4, mirror=True, zeroline=False)
for x_, y_, c in zip(off_x, off_y, off_colors):
    fig.add_trace(go.Scatter(x=[x_ - 0.5, x_ + 0.5], y=[y_ + 2, y_ - 2], xaxis="x5", yaxis="y5", mode="lines", line=dict(color=c, width=1), hoverinfo="skip", showlegend=False))
fig.add_trace(go.Scatter(x=[0, 166.871], y=[0, 168.828], xaxis="x5", yaxis="y5", mode="lines", line=dict(color=PINK, width=6), hoverinfo="skip", showlegend=False))
dotx, doty = [], []
for a, b in dot_dark_segments:
    dotx += [a, b, None]
    doty += [a * 1.0117, b * 1.0117, None]
fig.add_trace(go.Scatter(x=dotx, y=doty, xaxis="x5", yaxis="y5", mode="lines", line=dict(color=PURPLE, width=6), hoverinfo="skip", showlegend=False))
label("AUBRB02", 228, 3935, 41, anchor="center")
label("NC_054919", 52, 3745, 41, anchor="center", rot=-90)

# ---------- Panel C : synteny ----------
KB_PX = 12.94
layout_extra["xaxis6"] = dict(domain=dx(1114, 3330), range=[0, (3330 - 1114) / KB_PX], anchor="y6", visible=False)
layout_extra["yaxis6"] = dict(domain=dy(3510, 3960), range=[440, -10], visible=False, anchor="x6")
RIB_T, RIB_B = 136, 350
TRK_T, TRK_B = 105, 383


def hits_trace(hits, color):
    polys = [([a, b, d, c], [RIB_T, RIB_T, RIB_B, RIB_B]) for a, b, c, d in hits]
    xs, ys = polys_to_xy(polys)
    return go.Scatter(x=xs, y=ys, xaxis="x6", yaxis="y6", mode="lines", fill="toself", fillcolor=color, line=dict(width=0, color=color), hoverinfo="skip", showlegend=False)


fig.add_trace(go.Scatter(x=[0, ruler_end_kb], y=[0, 0], xaxis="x6", yaxis="y6", mode="lines", line=dict(color="#555555", width=4), hoverinfo="skip", showlegend=False))
rx, ry = [], []
for k in ruler_kb:
    rx += [k, k, None]
    ry += [0, 12, None]
fig.add_trace(go.Scatter(x=rx, y=ry, xaxis="x6", yaxis="y6", mode="lines", line=dict(color="#333333", width=3), hoverinfo="skip", showlegend=False))
fig.add_trace(hits_trace([(0, 166.87, 0, 169.4)], PINK))
fig.add_trace(hits_trace(purple_hits, PURPLE))
fig.add_trace(hits_trace(red_hits, RED))
fig.add_trace(hits_trace(yellow_hits, YELLOW))
fig.add_trace(hits_trace(green_hits, GREEN))
fig.add_trace(hits_trace(navy_hits, NAVY))
fig.add_trace(hits_trace(gap_hits, "#FFFFFF"))

all_genes = [g for gs in gene_sets for g in gs]


def linear_track(center, scale):
    polys = []
    for s, e in all_genes:
        head = min(2.1, e - s)
        if is_forward((s + e) / 2):
            kb = [s, s, e - head, e - head, e, e - head, e - head]
        else:
            kb = [e, e, s + head, s + head, s, s + head, s + head]
        off = [-15, 15, 15, 30, 0, -30, -15]
        polys.append(([k * scale for k in kb], [center + o for o in off]))
    xs, ys = polys_to_xy(polys)
    return go.Scatter(x=xs, y=ys, xaxis="x6", yaxis="y6", mode="lines", fill="toself", fillcolor="#A6C8E9", line=dict(width=0, color="#A6C8E9"), hoverinfo="skip", showlegend=False)


fig.add_trace(go.Scatter(x=[0, 166.87], y=[TRK_T, TRK_T], xaxis="x6", yaxis="y6", mode="lines", line=dict(color="#A6C8E9", width=8), hoverinfo="skip", showlegend=False))
fig.add_trace(go.Scatter(x=[0, 169.4], y=[TRK_B, TRK_B], xaxis="x6", yaxis="y6", mode="lines", line=dict(color="#A6C8E9", width=8), hoverinfo="skip", showlegend=False))
fig.add_trace(linear_track(TRK_T, 1.0))
fig.add_trace(linear_track(TRK_B, subject_stretch))
for k in ruler_kb:
    annotations.append(dict(text=f"{k} kb", x=k, y=47, xref="x6", yref="y6", xshift=20, showarrow=False, font=dict(family=FONT, size=40, color="#111111")))
label("Escherichia phage AUBRB02", 1082, 3589, 40, anchor="right")
label("AUBRB02_length_166871_cov_345", 1082, 3627, 40, anchor="right")
label("166,871 nt", 1082, 3669, 40, anchor="right")
label("NC_054919", 1093, 3867, 40, anchor="right")
label("Escherichia phage vB_EcoM_G4507", 1093, 3904, 40, anchor="right")
label("168,828 nt", 1093, 3946, 40, anchor="right")

for ax in layout_extra.values():
    ax["automargin"] = False

fig.update_layout(width=W, height=H, margin=dict(l=0, r=0, t=0, b=0, autoexpand=False), paper_bgcolor="white", plot_bgcolor="white", showlegend=False,
                  barmode="overlay", font=dict(family=FONT), annotations=annotations, shapes=shapes, hovermode=False, **layout_extra)
fig.write_html("out.html", config={"displayModeBar": False}, post_script="document.body.style.margin='0';")
